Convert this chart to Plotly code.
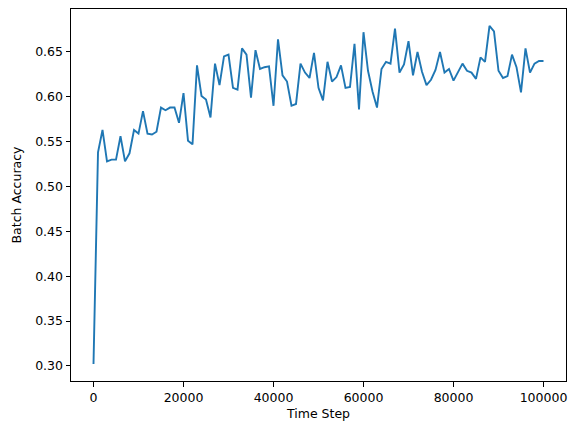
import plotly.graph_objects as go

# time steps, one sample every 1000 steps
time_step = list(range(0, 100001, 1000))

batch_accuracy = [
    0.302, 0.538, 0.563, 0.528, 0.530, 0.530, 0.556, 0.528, 0.537, 0.563,
    0.559, 0.584, 0.559, 0.558, 0.561, 0.588, 0.585, 0.588, 0.588, 0.571,
    0.604, 0.551, 0.547, 0.635, 0.601, 0.597, 0.577, 0.637, 0.613, 0.645,
    0.647, 0.610, 0.608, 0.654, 0.647, 0.599, 0.652, 0.631, 0.633, 0.634,
    0.590, 0.664, 0.624, 0.617, 0.590, 0.592, 0.637, 0.627, 0.621, 0.649,
    0.610, 0.596, 0.639, 0.617, 0.622, 0.635, 0.610, 0.611, 0.659, 0.586,
    0.672, 0.629, 0.606, 0.588, 0.631, 0.639, 0.637, 0.676, 0.627, 0.636,
    0.662, 0.624, 0.650, 0.628, 0.613, 0.619, 0.630, 0.650, 0.627, 0.631,
    0.618, 0.628, 0.637, 0.629, 0.627, 0.620, 0.644, 0.639, 0.679, 0.673,
    0.629, 0.621, 0.623, 0.647, 0.633, 0.605, 0.654, 0.627, 0.637, 0.640,
    0.640,
]

font = dict(family='DejaVu Sans', size=12.5, color='black')

fig = go.Figure(go.Scatter(x=time_step, y=batch_accuracy, mode='lines',
                           line=dict(color='#1f77b4', width=1.9)))

axis_style = dict(showgrid=False, zeroline=False, showline=True, mirror=True,
                  linecolor='black', linewidth=1, ticks='outside', ticklen=4.5,
                  tickwidth=1, tickcolor='black', tickfont=font, automargin=False)

# the page body adds an 8px margin, so the figure is 8px smaller and shifted
fig.update_layout(
    width=571, height=424,
    margin=dict(l=63, r=13, t=1, b=51),
    paper_bgcolor='white', plot_bgcolor='white',
    showlegend=False,
    font=font,
    xaxis=dict(range=[-5000, 105000], tick0=0, dtick=20000, tickformat='d',
               title=dict(text='Time Step', font=font, standoff=5), **axis_style),
    yaxis=dict(range=[0.2831, 0.6979], tick0=0.3, dtick=0.05, tickformat='.2f',
               title=dict(text='Batch Accuracy', font=font, standoff=10), **axis_style),
)

fig.write_html("out.html")
